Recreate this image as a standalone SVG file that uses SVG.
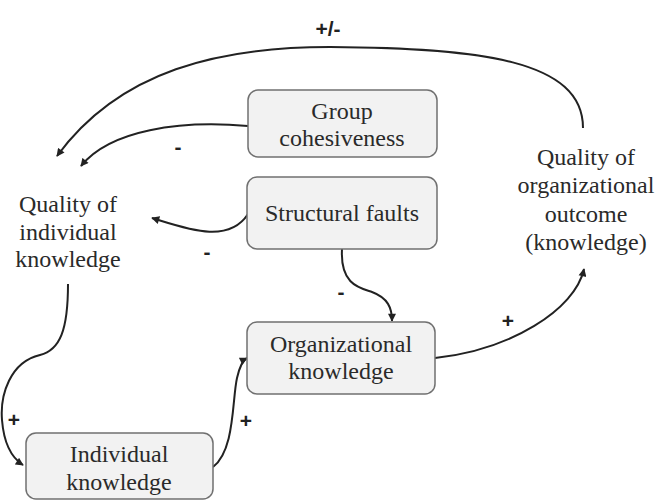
<svg xmlns="http://www.w3.org/2000/svg" width="656" height="500" viewBox="0 0 656 500">
  <defs>
    <marker id="arrow" viewBox="0 0 10 10" refX="9" refY="5" markerWidth="9" markerHeight="8" markerUnits="userSpaceOnUse" orient="auto">
      <path d="M0,0 L10,5 L0,10 Z" fill="#222"/>
    </marker>
    <style>
      .box { fill: #f2f2f2; stroke: #707070; stroke-width: 1.5; }
      .label { font-family: "Liberation Serif", "DejaVu Serif", serif; font-size: 24px; fill: #2a2a2a; text-anchor: middle; }
      .sign { font-family: "Liberation Sans", "DejaVu Sans", sans-serif; font-size: 21px; font-weight: bold; fill: #222; text-anchor: middle; }
      .edge { fill: none; stroke: #222; stroke-width: 2; marker-end: url(#arrow); }
    </style>
  </defs>
  <rect width="656" height="500" fill="#ffffff"/>

  <!-- connectors -->
  <g id="connectors">
    <path class="edge" d="M583,128 C583,60 480,48 330,47 C220,47 120,70 57,156"/>
    <path class="edge" d="M248,126 C180,120 110,130 81,166"/>
    <path class="edge" d="M248,214 C228,245 185,228 152,218"/>
    <path class="edge" d="M342,249 C340,285 360,288 372,292 C388,298 392,308 392,321"/>
    <path class="edge" d="M435,358 C510,350 575,310 584,269"/>
    <path class="edge" d="M68,284 C68,330 60,350 40,355 C10,362 0,395 2,420 C4,445 12,458 23,465"/>
    <path class="edge" d="M213,467 C235,450 232,400 237,378 C240,365 243,360 247,358"/>
    <text class="sign" x="328" y="36" font-size="24">+/-</text>
    <text class="sign" x="178" y="154">-</text>
    <text class="sign" x="207" y="259">-</text>
    <text class="sign" x="341" y="299">-</text>
    <text class="sign" x="508" y="328">+</text>
    <text class="sign" x="14" y="427">+</text>
    <text class="sign" x="246" y="428">+</text>
  </g>

  <g id="group-cohesiveness">
    <rect class="box" x="248" y="90" width="189" height="67" rx="10"/>
    <text class="label" x="342" y="119">Group</text>
    <text class="label" x="342" y="146">cohesiveness</text>
  </g>

  <g id="structural-faults">
    <rect class="box" x="247" y="177" width="190" height="72" rx="10"/>
    <text class="label" x="342" y="221">Structural faults</text>
  </g>

  <g id="organizational-knowledge">
    <rect class="box" x="247" y="322" width="188" height="72" rx="10"/>
    <text class="label" x="341" y="352">Organizational</text>
    <text class="label" x="341" y="379">knowledge</text>
  </g>

  <g id="individual-knowledge">
    <rect class="box" x="26" y="433" width="187" height="66" rx="10"/>
    <text class="label" x="119" y="462">Individual</text>
    <text class="label" x="119" y="490">knowledge</text>
  </g>

  <g id="quality-individual">
    <text class="label" x="68" y="212">Quality of</text>
    <text class="label" x="68" y="240">individual</text>
    <text class="label" x="68" y="267">knowledge</text>
  </g>

  <g id="quality-organizational">
    <text class="label" x="586" y="165">Quality of</text>
    <text class="label" x="586" y="193">organizational</text>
    <text class="label" x="586" y="222">outcome</text>
    <text class="label" x="586" y="250">(knowledge)</text>
  </g>
</svg>
